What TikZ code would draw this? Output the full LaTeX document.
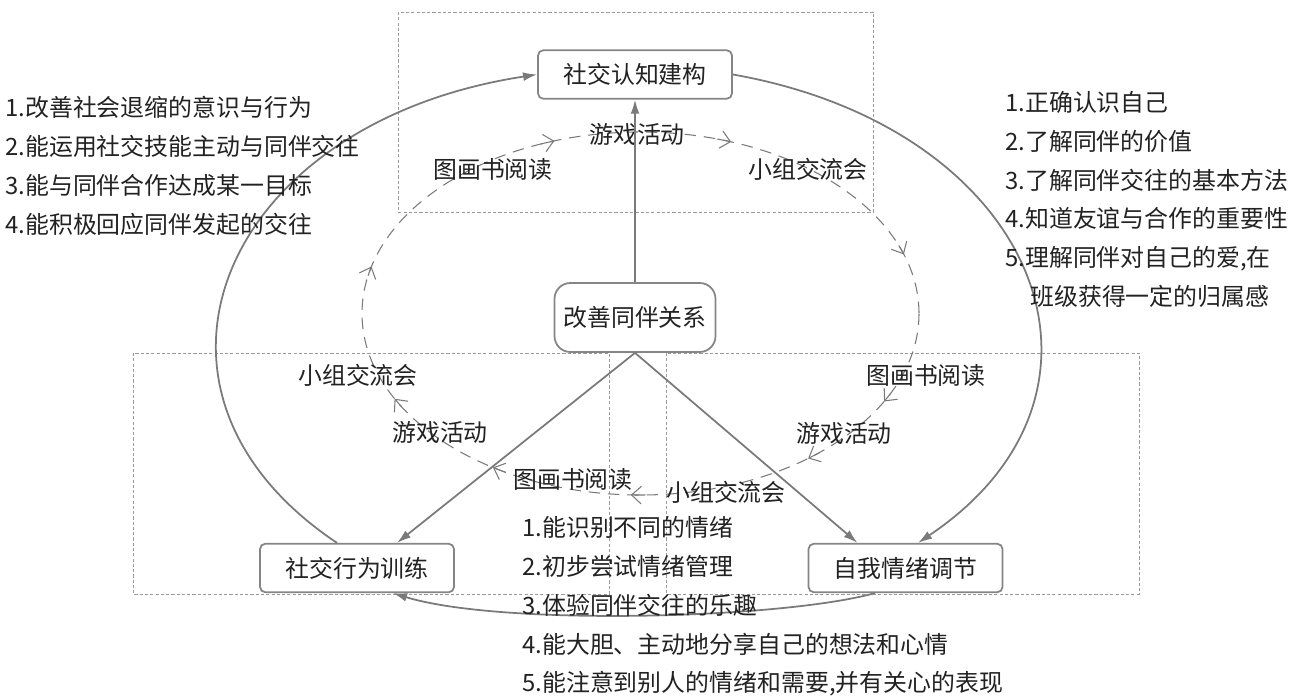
\documentclass[tikz,border=0pt]{standalone}
\usepackage{fontspec}
\setmainfont{Noto Sans CJK SC}
\usetikzlibrary{arrows.meta,calc}
\definecolor{inkgray}{HTML}{222222}
\definecolor{linegray}{HTML}{7A7A7A}
\definecolor{boxgray}{HTML}{858585}
\definecolor{framegray}{HTML}{9A9A9A}

\begin{document}
\begin{tikzpicture}[x=0.02cm, y=-0.02cm,
  every node/.style={font=\fontsize{13.6pt}{22.1pt}\selectfont, text=inkgray},
  goalbox/.style={draw=boxgray, line width=1pt, rounded corners=3pt, fill=white, minimum width=3.88cm, minimum height=0.97cm, inner sep=0pt},
  hub/.style={draw=boxgray, line width=1pt, rounded corners=9pt, fill=white, minimum width=3.22cm, minimum height=1.38cm, inner sep=0pt},
  zone/.style={draw=framegray, line width=0.5pt, dash pattern=on 1.8pt off 1.2pt},
  ring/.style={draw=linegray, line width=0.6pt, dash pattern=on 6.5pt off 4.5pt},
  link/.style={draw=linegray, line width=1pt, -{Latex[length=8pt,width=5pt]}},
  tag/.style={inner sep=0pt},
  aimlist/.style={inner sep=0pt, anchor=north west, align=left}]

  \useasboundingbox[fill=white] (0,0) rectangle (1293,699);

  % dashed zones
  \draw[zone] (398,12) rectangle (873,212);
  \draw[zone] (133,353) rectangle (609,594);
  \draw[zone] (666,353) rectangle (1139,594);

  % inner cycle of activities
  \coordinate (mid) at (640.5,313.5);
  \draw[ring] (mid) ellipse [x radius=278.5, y radius=181.5];
  \foreach \a in {29,53,92,122,152,195,252,289,341}
    \draw[linegray, line width=0.6pt, -{Straight Barb[length=5.5pt,width=10pt]}]
      ($(mid)+(\a-3:278.5 and 181.5)$) arc[start angle=\a-3, end angle=\a, x radius=278.5, y radius=181.5];

  \node[tag] (t1) at (493,169) {图画书阅读};
  \node[tag] (t2) at (637,134) {游戏活动};
  \node[tag] (t3) at (808,169) {小组交流会};
  \node[tag] (r1) at (926,375) {图画书阅读};
  \node[tag] (r2) at (844,433) {游戏活动};
  \node[tag] (r3) at (726,492) {小组交流会};
  \node[tag] (l1) at (573,479) {图画书阅读};
  \node[tag] (l2) at (440,432) {游戏活动};
  \node[tag] (l3) at (358,375) {小组交流会};

  % main goals
  \node[goalbox] (cog) at (635,74.5) {社交认知建构};
  \node[hub] (peer) at (635,317.5) {改善同伴关系};
  \node[goalbox] (act) at (357,568) {社交行为训练};
  \node[goalbox] (emo) at (905.5,568) {自我情绪调节};

  \draw[link] (peer) -- (cog);
  \draw[link] (peer.south) -- ($(act.north)+(40,0)$);
  \draw[link] (peer.south) -- ($(emo.north)+(-48,0)$);

  % outer loop
  \draw[link] ($(act.north)+(-20,0)$) .. controls +(-229,-153) and +(-315,48) .. (cog.west);
  \draw[link] (cog.east) .. controls +(306,54) and +(224,-150) .. ($(emo.north)+(12.5,0)$);
  \draw[link] ($(emo.south)+(-30.5,0)$) .. controls +(-95,26) and +(107,33) .. ($(act.south)+(36,0)$);

  % aims
  \node[aimlist] (actaims) at (5,96) {1.改善社会退缩的意识与行为\\2.能运用社交技能主动与同伴交往\\3.能与同伴合作达成某一目标\\4.能积极回应同伴发起的交往};
  \node[aimlist] (cogaims) at (1005,91) {1.正确认识自己\\2.了解同伴的价值\\3.了解同伴交往的基本方法\\4.知道友谊与合作的重要性\\5.理解同伴对自己的爱,在\\\hspace*{0.5cm}班级获得一定的归属感};
  \node[aimlist] (emoaims) at (522,516) {1.能识别不同的情绪\\2.初步尝试情绪管理\\3.体验同伴交往的乐趣\\4.能大胆、主动地分享自己的想法和心情\\5.能注意到别人的情绪和需要,并有关心的表现};
\end{tikzpicture}
\end{document}
